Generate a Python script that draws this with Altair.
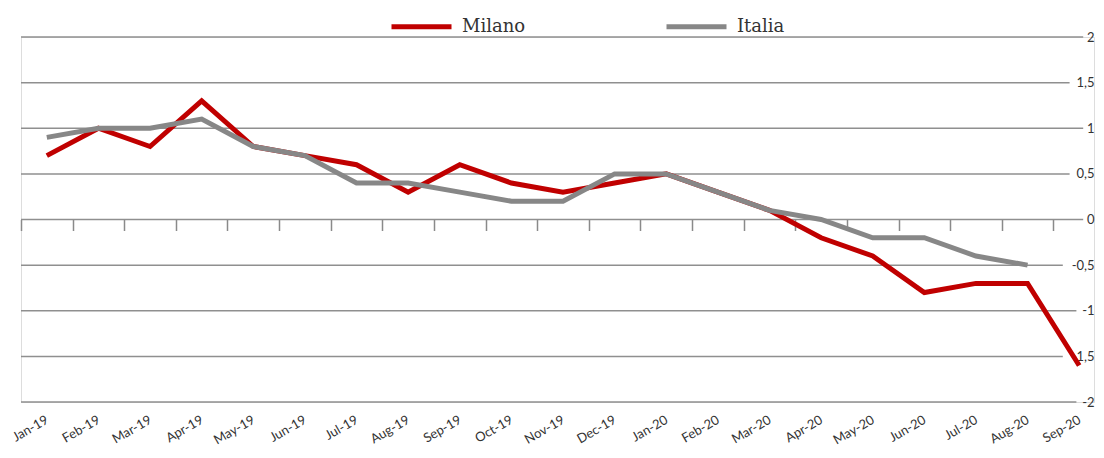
import altair as alt
import pandas as pd

months = ["Jan-19", "Feb-19", "Mar-19", "Apr-19", "May-19", "Jun-19", "Jul-19",
          "Aug-19", "Sep-19", "Oct-19", "Nov-19", "Dec-19", "Jan-20", "Feb-20",
          "Mar-20", "Apr-20", "May-20", "Jun-20", "Jul-20", "Aug-20", "Sep-20"]
milano = [0.7, 1.0, 0.8, 1.3, 0.8, 0.7, 0.6, 0.3, 0.6, 0.4, 0.3, 0.4, 0.5, 0.3,
          0.1, -0.2, -0.4, -0.8, -0.7, -0.7, -1.6]
italia = [0.9, 1.0, 1.0, 1.1, 0.8, 0.7, 0.4, 0.4, 0.3, 0.2, 0.2, 0.5, 0.5, 0.3,
          0.1, 0.0, -0.2, -0.2, -0.4, -0.5, None]
series = ["Milano", "Italia"]
colors = ["#C00000", "#878787"]
y_ticks = [-2, -1.5, -1, -0.5, 0, 0.5, 1, 1.5, 2]

rows = []
for name, vals in zip(series, [milano, italia]):
    for m, v in zip(months, vals):
        if v is not None:
            rows.append({"month": m, "value": v, "serie": name})
df = pd.DataFrame(rows)
grid_df = pd.DataFrame({"value": y_ticks})

label_expr = "replace(replace(format(datum.value, '.1~f'), '.', ','), '\u2212', '-')"

yscale = alt.Scale(domain=[-2, 2], nice=False, zero=False)
yaxis = alt.Axis(
    orient="right", values=y_ticks, domain=False, ticks=False, grid=False,
    labelAlign="right", labelPadding=0, labelFont="Lato", labelFontSize=13,
    labelColor="#333333", title=None, labelExpr=label_expr,
)

# gridlines stop just before each right-hand label, as in the reference
grid = alt.Chart(grid_df).transform_calculate(
    lbl="replace(replace(format(datum.value, '.1~f'), '.', ','), '\u2212', '-')"
).transform_calculate(
    gx1="0",
    gx2="1073 - 6.8 * length(datum.lbl) - 4",
).mark_rule(color="#8f8f8f", strokeWidth=1.5).encode(
    y=alt.Y("value:Q", scale=yscale, axis=yaxis),
    x=alt.X("gx1:Q", scale=None, axis=None),
    x2="gx2:Q",
)

lines = alt.Chart(df).mark_line(strokeWidth=5).encode(
    x=alt.X(
        "month:N", sort=months, bandPosition=0.5,
        scale=alt.Scale(type="band", paddingInner=0, paddingOuter=0, range=[0, 1084]),
        axis=alt.Axis(
            orient="bottom", offset=-182.5, domain=False, grid=False,
            ticks=True, tickBand="extent", tickSize=11, tickColor="#8a8a8a",
            tickWidth=1.5, labelAngle=-30, labelAlign="right",
            labelBaseline="middle", labelPadding=188, labelFont="Lato",
            labelFontSize=13, labelColor="#333333", labelOverlap=False, title=None,
        ),
    ),
    y=alt.Y("value:Q", scale=yscale, axis=yaxis),
    color=alt.Color(
        "serie:N", sort=series,
        scale=alt.Scale(domain=series, range=colors),
        legend=alt.Legend(
            orient="none", legendX=368, legendY=-43, direction="horizontal",
            title=None, symbolType="stroke", symbolSize=3600, symbolStrokeWidth=5,
            labelFont="DejaVu Serif", labelFontSize=18, labelColor="#333333",
            labelOffset=8, columnPadding=130,
        ),
    ),
    order=alt.Order("serie:N", sort="descending"),
)

chart = alt.layer(grid, lines).resolve_scale(x="independent").properties(
    width=1073, height=365,
    padding={"left": 13, "top": 29, "right": 2, "bottom": 48},
    autosize=alt.AutoSizeParams(type="none"),
).configure_view(stroke=None).configure(background="white")

chart.save("out.html", embed_options={"renderer": "svg", "actions": False})
